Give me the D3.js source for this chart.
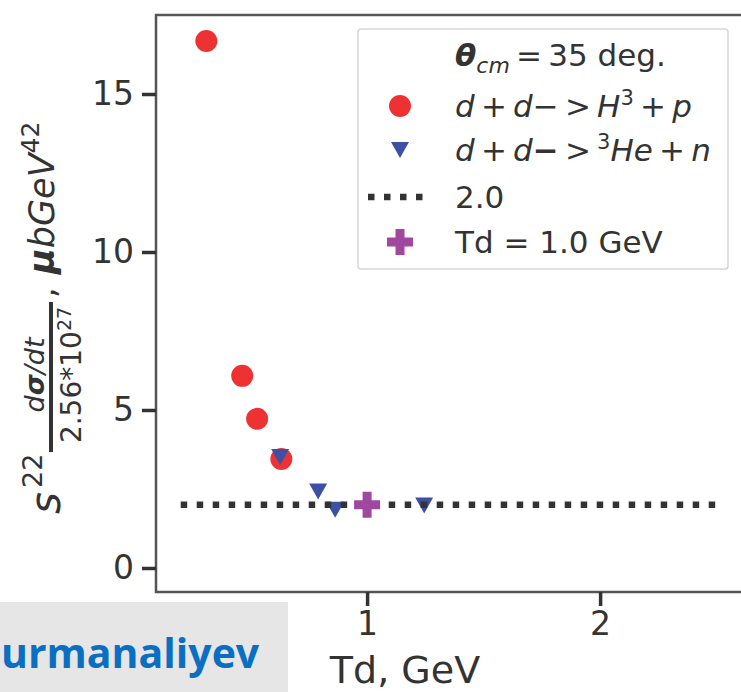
<!DOCTYPE html>
<html>
<head>
<meta charset="utf-8">
<script src="https://cdn.jsdelivr.net/npm/d3@7"></script>
<style>
  body { margin: 0; background: #fff; }
  svg { display: block; font-family: "DejaVu Sans", sans-serif; }
</style>
</head>
<body>
<svg id="chart" width="741" height="692"></svg>
<script>
// data
let tdH3p = [0.31, 0.464, 0.528, 0.632];
let valH3p = [16.68, 6.08, 4.72, 3.45];
let tdHe3n = [0.627, 0.79, 0.863, 1.245];
let valHe3n = [3.51, 2.42, 1.84, 1.98];
let refLevel = 2.0;
let refRange = [0.2, 2.5];
let tdPoint = [1.0];
let valPoint = [2.0];
let xTicks = [1, 2];
let yTicks = [0, 5, 10, 15];

let red = "#ee3233", blue = "#3d50a3", purple = "#a0479f", ink = "#333";
let thin = "\u2009";

let svg = d3.select("#chart");

let x = d3.scaleLinear().domain([0.094, 2.7]).range([156, 156 + (2.7 - 0.094) * 233]);
let y = d3.scaleLinear().domain([-0.76, 17.5]).range([592, 15]);

// frame (no right spine visible, it is off the picture)
svg.append("path")
    .attr("d", `M741,${y.range()[1]} H${x.range()[0]} V${y.range()[0]} H741`)
    .attr("fill", "none").attr("stroke", "#555").attr("stroke-width", 2.5);

// axes
let yAxis = svg.append("g").attr("transform", `translate(${x.range()[0]},0)`)
    .call(d3.axisLeft(y).tickValues(yTicks).tickSize(14).tickPadding(8).tickFormat(d3.format("d")));
let xAxis = svg.append("g").attr("transform", `translate(0,${y.range()[0]})`)
    .call(d3.axisBottom(x).tickValues(xTicks).tickSize(14).tickPadding(6).tickFormat(d3.format("d")));
[xAxis, yAxis].forEach(function(a) {
    a.select(".domain").remove();
    a.selectAll(".tick line").attr("stroke", ink).attr("stroke-width", 3.5);
    a.selectAll(".tick text").attr("fill", ink).style("font-size", "33px")
        .style("font-family", "DejaVu Sans");
});

// markers
let circles = d3.zip(tdH3p, valH3p);
let triangles = d3.zip(tdHe3n, valHe3n);

svg.selectAll(".h3p").data(circles).enter().append("circle")
    .attr("class", "h3p")
    .attr("cx", d => x(d[0])).attr("cy", d => y(d[1]))
    .attr("r", 11).attr("fill", red);

let tri = "M-9,-8 L9,-8 L0,8 Z";
svg.selectAll(".he3n").data(triangles).enter().append("path")
    .attr("class", "he3n")
    .attr("transform", d => `translate(${x(d[0])},${y(d[1])})`)
    .attr("d", tri).attr("fill", blue);

svg.append("line")
    .attr("x1", x(refRange[0])).attr("x2", x(refRange[1]))
    .attr("y1", y(refLevel)).attr("y2", y(refLevel))
    .attr("stroke", ink).attr("stroke-width", 6.5).attr("stroke-dasharray", "6.5,9.5");

let plus = "M-4.5,-13 H4.5 V-4.5 H13 V4.5 H4.5 V13 H-4.5 V4.5 H-13 V-4.5 H-4.5 Z";
svg.selectAll(".td").data(d3.zip(tdPoint, valPoint)).enter().append("path")
    .attr("class", "td")
    .attr("transform", d => `translate(${x(d[0])},${y(d[1])})`)
    .attr("d", plus).attr("fill", purple);

// x label
svg.append("text").attr("x", 405).attr("y", 683).attr("text-anchor", "middle")
    .attr("fill", ink).style("font-size", "38px").text("Td, GeV");

// y label, built piece by piece in a rotated group
let yl = svg.append("g").attr("transform", "translate(60,512) rotate(-90)").attr("fill", ink);
yl.append("text").attr("x", -2).attr("y", 0).style("font-size", "42px")
    .style("font-style", "italic").text("s");
yl.append("text").attr("x", 24).attr("y", -18).style("font-size", "27px").text("22");
yl.append("rect").attr("x", 60).attr("y", -11).attr("width", 150).attr("height", 4);
let num = yl.append("text").attr("x", 137).attr("y", -16).attr("text-anchor", "middle")
    .style("font-size", "27px").style("font-style", "italic");
num.append("tspan").text("d");
num.append("tspan").style("font-weight", "bold").text("σ");
num.append("tspan").text("/dt");
let den = yl.append("text").attr("x", 137).attr("y", 21).attr("text-anchor", "middle")
    .style("font-size", "28px");
den.append("tspan").text("2.56*10");
den.append("tspan").attr("dy", -10).style("font-size", "19px").text("27");
yl.append("text").attr("x", 214).attr("y", -5).style("font-size", "34px").text(",");
let unit = yl.append("text").attr("x", 238).attr("y", -6).style("font-size", "35px")
    .style("font-style", "italic");
unit.append("tspan").style("font-weight", "bold").text("μ");
unit.append("tspan").text("bGeV");
unit.append("tspan").attr("dy", -15).style("font-size", "25px").style("font-style", "normal").text("42");

// legend
let lg = svg.append("g");
lg.append("rect").attr("x", 358).attr("y", 29).attr("width", 370).attr("height", 240)
    .attr("rx", 3).attr("fill", "#fff").attr("fill-opacity", 0.85)
    .attr("stroke", "#d6d6d6").attr("stroke-width", 1.5);

let lgFont = "31px";
let title = lg.append("text").attr("x", 455).attr("y", 66).attr("fill", ink).style("font-size", lgFont);
title.append("tspan").style("font-weight", "bold").style("font-style", "italic").text("θ");
title.append("tspan").attr("dy", 7).style("font-size", "22px").style("font-style", "italic").text("cm");
title.append("tspan").attr("dy", -7).text(thin + "=" + thin + "35 deg.");

let rowY = [106, 150, 197, 242];
lg.append("circle").attr("cx", 400).attr("cy", rowY[0]).attr("r", 11).attr("fill", red);
lg.append("path").attr("transform", `translate(400,${rowY[1]})`).attr("d", tri).attr("fill", blue);
lg.append("line").attr("x1", 368).attr("x2", 428).attr("y1", rowY[2]).attr("y2", rowY[2])
    .attr("stroke", ink).attr("stroke-width", 6.5).attr("stroke-dasharray", "6.5,9.5");
lg.append("path").attr("transform", `translate(400,${rowY[3]})`).attr("d", plus).attr("fill", purple);

function mathRow(yPos, parts) {
    let t = lg.append("text").attr("x", 455).attr("y", yPos + 11).attr("fill", ink).style("font-size", lgFont);
    parts.forEach(function(p) {
        let s = t.append("tspan").text(p.t);
        if (p.i) s.style("font-style", "italic");
        if (p.b) s.style("font-weight", "bold");
        if (p.sup) s.attr("dy", -12).style("font-size", "21px");
        if (p.down) s.attr("dy", 12);
    });
}
let pl = thin + "+" + thin, arrow = thin + ">" + thin;
mathRow(rowY[0], [{t: "d", i: 1}, {t: pl}, {t: "d", i: 1}, {t: "−"}, {t: arrow}, {t: "H", i: 1},
    {t: "3", sup: 1}, {t: pl, down: 1}, {t: "p", i: 1}]);
mathRow(rowY[1], [{t: "d", i: 1}, {t: pl}, {t: "d", i: 1}, {t: "−", b: 1}, {t: arrow}, {t: "3", sup: 1},
    {t: "He", i: 1, down: 1}, {t: pl}, {t: "n", i: 1}]);
mathRow(rowY[2], [{t: "2.0"}]);
mathRow(rowY[3], [{t: "Td = 1.0 GeV"}]);

// watermark strip at the bottom left
svg.append("rect").attr("x", 0).attr("y", 602).attr("width", 288).attr("height", 90).attr("fill", "#e6e6e6");
svg.append("text").attr("x", 1).attr("y", 668)
    .attr("fill", "#0a6fc2").style("font-size", "41px").style("font-weight", "bold")
    .style("font-family", "Open Sans").text("urmanaliyev");
</script>
</body>
</html>
